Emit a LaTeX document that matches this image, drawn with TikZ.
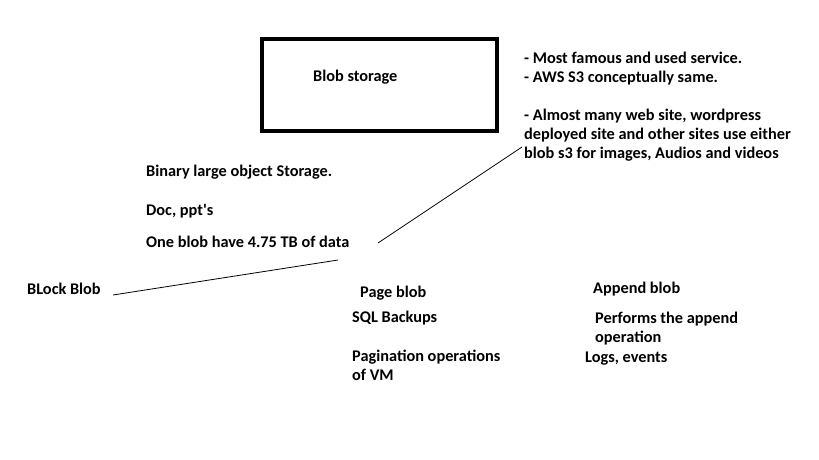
\documentclass[tikz,border=0pt]{standalone}
\usepackage{fontspec}
\setmainfont{Carlito}[Ligatures=TeXOff]
\begin{document}
\begin{tikzpicture}[x=1pt,y=-1pt,
  lbl/.style={anchor=base west,inner sep=0pt,font=\bfseries\fontsize{16.3}{19}\selectfont,align=left},
  thinline/.style={line width=0.8pt,black}]
\useasboundingbox (0,0) rectangle (819,460);
\fill[white] (0,0) rectangle (819,460);
\draw[line width=4pt] (262,39) rectangle (497,131);
\node[lbl] (blob) at (313,81.5) {Blob storage};
\node[lbl] (notes) at (524,158.5) {- Most famous and used service.\\- AWS S3 conceptually same.\\[19pt]- Almost many web site, wordpress\\deployed site and other sites use either\\blob s3 for images, Audios and videos};
\node[lbl] (bin) at (146,176.5) {Binary large object Storage.};
\node[lbl] (doc) at (146,215.5) {Doc, ppt's};
\node[lbl] (one) at (146,247.5) {One blob have 4.75 TB of data};
\node[lbl] (block) at (27,294.5) {BLock Blob};
\node[lbl] (page) at (360,297.5) {Page blob};
\node[lbl] (sql) at (352,322.5) {SQL Backups};
\node[lbl] (pag) at (352,380.5) {Pagination operations\\of VM};
\node[lbl] (append) at (593,293.5) {Append blob};
\node[lbl] (perf) at (595,342.5) {Performs the append\\operation};
\node[lbl] (logs) at (585,362.5) {Logs, events};
\coordinate (l1a) at (378,243);
\coordinate (l1b) at (522,147);
\coordinate (l2a) at (113,295);
\coordinate (l2b) at (338,260);
\draw[thinline] (l1a) -- (l1b);
\draw[thinline] (l2a) -- (l2b);
\end{tikzpicture}
\end{document}
